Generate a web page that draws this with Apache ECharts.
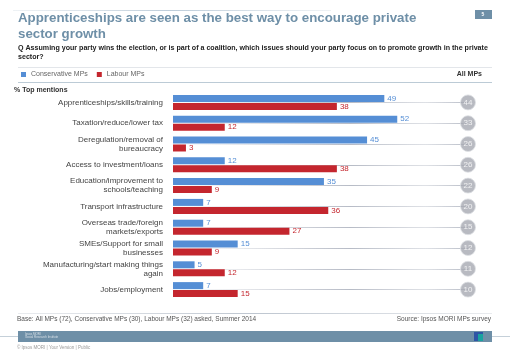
<!DOCTYPE html>
<html>
<head>
<meta charset="utf-8">
<script src="https://cdn.jsdelivr.net/npm/echarts@6/dist/echarts.min.js"></script>
<style>
  html, body { margin: 0; padding: 0; background: #fff; }
  #chart { width: 510px; height: 353px; }
</style>
</head>
<body>
<div id="chart"></div>
<script>
// categories, top to bottom
const categories = [
  "Apprenticeships/skills/training",
  "Taxation/reduce/lower tax",
  "Deregulation/removal of\nbureaucracy",
  "Access to investment/loans",
  "Education/improvement to\nschools/teaching",
  "Transport infrastructure",
  "Overseas trade/foreign\nmarkets/exports",
  "SMEs/Support for small\nbusinesses",
  "Manufacturing/start making things\nagain",
  "Jobs/employment"
];
const conservativeMPs = [49, 52, 45, 12, 35, 7, 7, 15, 5, 7];
const labourMPs = [38, 12, 3, 38, 9, 36, 27, 9, 12, 15];
const allMPs = [44, 33, 26, 26, 22, 20, 15, 12, 11, 10];

const blue = "#558ed5";
const red = "#c4262e";
const slate = "#6e8fa7";
const font = "Liberation Sans, Arial, sans-serif";

const chart = echarts.init(document.getElementById("chart"));

// faint lines that run from the bars to the "All MPs" circles
const rowLines = categories.map((c, i) => [
  { coord: [0, i] },
  { coord: [100, i] }
]);

chart.setOption({
  animation: false,
  textStyle: { fontFamily: font },
  legend: {
    data: ["Conservative MPs", "Labour MPs"],
    left: 16,
    top: 66,
    icon: "rect",
    itemWidth: 5,
    itemHeight: 5,
    itemGap: 9,
    textStyle: { fontSize: 7, color: "#666", fontFamily: font }
  },
  grid: [
    { left: 173, top: 92, width: 276, height: 208 },
    { left: 173, top: 92, width: 295, height: 208 }
  ],
  xAxis: [
    { gridIndex: 0, type: "value", min: 0, max: 64, show: false },
    { gridIndex: 1, type: "value", min: 0, max: 100, show: false }
  ],
  yAxis: [
    {
      gridIndex: 0,
      type: "category",
      data: categories,
      inverse: true,
      axisLine: { show: false },
      axisTick: { show: false },
      axisLabel: {
        fontSize: 8,
        color: "#444",
        lineHeight: 9,
        margin: 10,
        fontFamily: font
      }
    },
    {
      gridIndex: 1,
      type: "category",
      data: categories,
      inverse: true,
      show: false
    }
  ],
  series: [
    {
      name: "All MPs",
      type: "scatter",
      xAxisIndex: 1,
      yAxisIndex: 1,
      z: 1,
      data: allMPs.map((v, i) => [100, i, v]),
      symbolSize: 15,
      itemStyle: { color: "#a6a9b2", borderColor: "#dfe1e5", borderWidth: 1 },
      label: {
        show: true,
        position: "inside",
        formatter: p => p.value[2],
        color: "#fff",
        fontSize: 8,
        fontFamily: font
      },
      markLine: {
        silent: true,
        symbol: "none",
        z: 0,
        label: { show: false },
        lineStyle: {
          type: "solid",
          width: 1,
          color: {
            type: "linear", x: 0, y: 0, x2: 1, y2: 0,
            colorStops: [
              { offset: 0, color: "rgba(190,194,204,0)" },
              { offset: 0.6, color: "rgba(175,180,192,0.9)" },
              { offset: 0.85, color: "rgba(200,204,212,0.6)" },
              { offset: 1, color: "rgba(175,180,192,0.9)" }
            ]
          }
        },
        data: rowLines
      }
    },
    {
      name: "Conservative MPs",
      type: "bar",
      xAxisIndex: 0,
      yAxisIndex: 0,
      z: 3,
      barWidth: 7,
      barGap: "14%",
      color: blue,
      data: conservativeMPs,
      label: {
        show: true,
        position: "right",
        distance: 3,
        color: blue,
        fontSize: 8,
        fontFamily: font
      }
    },
    {
      name: "Labour MPs",
      type: "bar",
      xAxisIndex: 0,
      yAxisIndex: 0,
      z: 3,
      barWidth: 7,
      barGap: "14%",
      color: red,
      data: labourMPs,
      label: {
        show: true,
        position: "right",
        distance: 3,
        color: red,
        fontSize: 8,
        fontFamily: font
      }
    }
  ],
  graphic: [
    // top rule
    {
      type: "rect",
      shape: { x: 13, y: 10, width: 318, height: 1 },
      style: {
        fill: {
          type: "linear", x: 0, y: 0, x2: 1, y2: 0,
          colorStops: [
            { offset: 0, color: "rgba(200,212,222,0.3)" },
            { offset: 0.5, color: "rgba(190,205,218,1)" },
            { offset: 1, color: "rgba(200,212,222,0.3)" }
          ]
        }
      }
    },
    // page number box
    { type: "rect", shape: { x: 475, y: 10, width: 17, height: 9 }, style: { fill: slate } },
    { type: "text", x: 483, y: 12, style: { text: "5", fill: "#fff", font: "bold 5px " + font, align: "center" } },
    // title
    {
      type: "text", x: 18, y: 11,
      style: {
        text: "Apprenticeships are seen as the best way to encourage private\nsector growth",
        fill: slate,
        font: "bold 13.3px " + font,
        lineHeight: 15.5
      }
    },
    // question
    {
      type: "text", x: 18, y: 43,
      style: {
        text: "Q Assuming your party wins the election, or is part of a coalition, which issues should your party focus on to promote growth in the private\nsector?",
        fill: "#222",
        font: "bold 7.1px " + font,
        lineHeight: 9.5
      }
    },
    { type: "rect", shape: { x: 18, y: 67, width: 474, height: 1 }, style: { fill: "#e3e6ea" } },
    { type: "text", x: 482, y: 71, style: { text: "All MPs", fill: "#333", font: "bold 7px " + font, align: "right" } },
    { type: "rect", shape: { x: 18, y: 82, width: 474, height: 1 }, style: { fill: "#bccbd6" } },
    { type: "text", x: 14, y: 87, style: { text: "% Top mentions", fill: "#333", font: "bold 7px " + font } },
    // footer
    {
      type: "rect",
      shape: { x: 18, y: 313, width: 474, height: 1 },
      style: {
        fill: {
          type: "linear", x: 0, y: 0, x2: 1, y2: 0,
          colorStops: [
            { offset: 0, color: "rgba(200,206,214,0.4)" },
            { offset: 0.5, color: "rgba(190,198,208,1)" },
            { offset: 1, color: "rgba(200,206,214,0.4)" }
          ]
        }
      }
    },
    { type: "text", x: 17, y: 316, style: { text: "Base: All MPs (72), Conservative MPs (30), Labour MPs (32) asked, Summer 2014", fill: "#555", font: "6.5px " + font } },
    { type: "text", x: 491, y: 316, style: { text: "Source: Ipsos MORI MPs survey", fill: "#555", font: "6.5px " + font, align: "right" } },
    { type: "rect", shape: { x: 0, y: 336, width: 510, height: 1 }, style: { fill: "#c5d0d9" } },
    { type: "rect", shape: { x: 18, y: 331, width: 474, height: 11 }, style: { fill: slate } },
    { type: "text", x: 25, y: 333, style: { text: "Ipsos MORI\nSocial Research Institute", fill: "rgba(255,255,255,0.7)", font: "3px " + font, lineHeight: 3 } },
    { type: "rect", shape: { x: 474, y: 332, width: 9, height: 9 }, style: { fill: "#2f56a6" } },
    { type: "rect", shape: { x: 478, y: 334, width: 5, height: 7 }, style: { fill: "#1aa3a0" } },
    { type: "text", x: 17, y: 345, style: { text: "© Ipsos MORI | Your Version | Public", fill: "#999", font: "4.5px " + font } }
  ]
});
</script>
</body>
</html>
